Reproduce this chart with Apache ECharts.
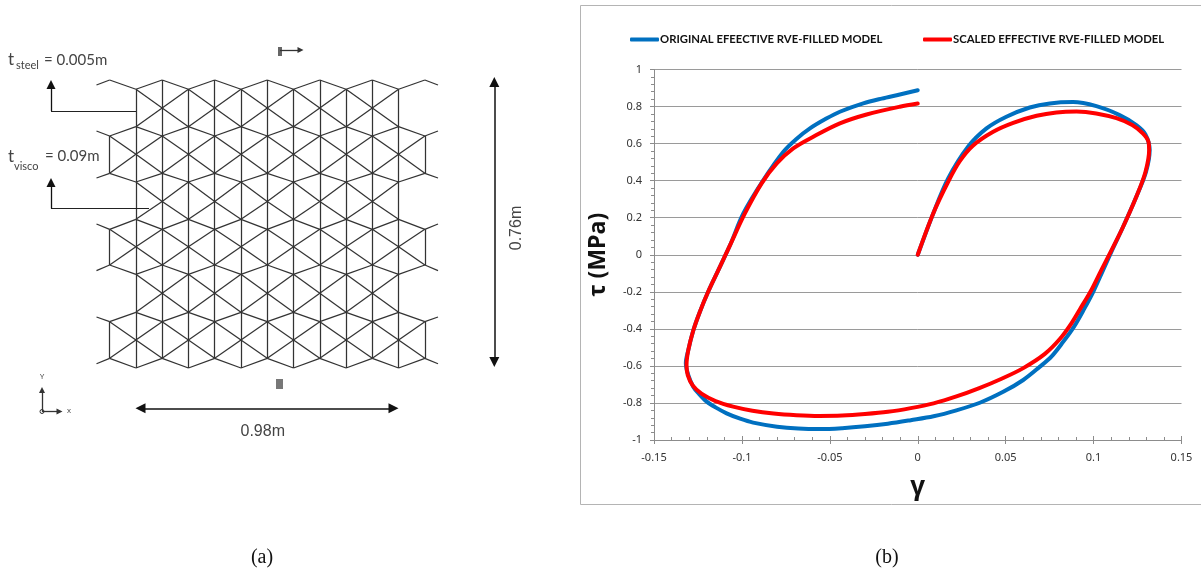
<!DOCTYPE html>
<html><head><meta charset="utf-8">
<style>html,body{margin:0;padding:0;background:#fff}#c{width:1201px;height:574px}</style>
<script src="https://cdn.jsdelivr.net/npm/echarts@6/dist/echarts.min.js"></script>
</head><body><div id="c"></div>
<script>
// Panel (b): hysteresis loops
const originalGamma=[0,.0088,.0173,.0286,.0391,.0504,.0637,.0751,.0883,.1016,.1148,.1243,.1295,.1319,.1298,.1243,.1168,.1108,.1054,.0998,.0945,.0888,.0827,.076,.0695,.06,.0486,.0353,.022,.009,-.004,-.017,-.03,-.043,-.0557,-.068,-.08,-.0936,-.101,-.1087,-.115,-.12,-.1245,-.1277,-.1305,-.1319,-.1305,-.1277,-.124,-.1192,-.1134,-.1066,-.0992,-.0878,-.0764,-.069,-.0613,-.052,-.0443,-.031,-.0205,-.0102,0];
const originalTau=[0,.223,.412,.583,.682,.745,.795,.817,.824,.802,.754,.70,.65,.565,.447,.313,.151,.03,-.083,-.2,-.295,-.389,-.47,-.55,-.604,-.676,-.74,-.799,-.84,-.872,-.893,-.912,-.926,-.936,-.941,-.938,-.928,-.906,-.885,-.856,-.824,-.793,-.75,-.712,-.65,-.586,-.515,-.41,-.31,-.2,-.083,.055,.223,.403,.556,.625,.682,.735,.772,.817,.843,.865,.888];
const scaledGamma=[0,.0088,.0173,.0239,.0315,.0429,.0543,.0676,.0789,.0903,.1015,.113,.122,.128,.1312,.1316,.1295,.1243,.1168,.1105,.1044,.0982,.0925,.0874,.0808,.0723,.06,.048,.035,.022,.009,-.004,-.017,-.03,-.043,-.056,-.069,-.082,-.094,-.105,-.115,-.123,-.128,-.1308,-.1315,-.1305,-.1277,-.124,-.1192,-.1134,-.1066,-.0983,-.0888,-.0802,-.0708,-.0594,-.0443,-.0291,-.0102,0];
const scaledTau=[0,.223,.394,.505,.59,.664,.712,.75,.768,.773,.763,.737,.70,.655,.61,.565,.447,.313,.151,.03,-.083,-.2,-.29,-.37,-.455,-.535,-.612,-.668,-.72,-.765,-.802,-.828,-.848,-.86,-.868,-.87,-.866,-.857,-.842,-.82,-.79,-.75,-.705,-.65,-.595,-.515,-.41,-.31,-.2,-.083,.055,.223,.385,.493,.574,.637,.709,.757,.799,.816];
const seriesNames=['ORIGINAL EFEECTIVE RVE-FILLED MODEL','SCALED EFFECTIVE RVE-FILLED MODEL'];
// Panel (a): lattice levels (metres from the bottom of the 0.76 m panel)
const evenColumnLevels=[.76,.6861,.6122,.5138,.4394,.366,.2718,.1971,.1222,.0256];
const oddColumnLevels=[.7355,.6368,.564,.4908,.3924,.3201,.2473,.147,.0739,0];
const borderLevelIndex=[0,2,3,5,6,8,9];
const tailLevels=[.7468,.6254,.5014,.38,.2568,.1346,.0113];
const columnCount=13;

const pxX=p=>(p-96.5)/26.27-0.5, pxY=p=>(368-p)/288*.76;
const seg=(a,b,c,d)=>({coords:[[pxX(a),pxY(b)],[pxX(c),pxY(d)]]});
const lattice=[];
const L=(c1,y1,c2,y2)=>lattice.push({coords:[[c1,y1],[c2,y2]]});
const last=columnCount-1;
for(let c=0;c<last;c++){
  const even=c%2===0?c:c+1, odd=c%2===0?c+1:c;
  const outer=(c===0||c===last-1);
  for(let a=0;a<evenColumnLevels.length;a++){
    if(outer&&!borderLevelIndex.includes(a))continue;
    L(even,evenColumnLevels[a],odd,oddColumnLevels[a]);
    if(a>0)L(even,evenColumnLevels[a],odd,oddColumnLevels[a-1]);
  }
}
for(let c=1;c<last;c++){
  const lv=c%2===0?evenColumnLevels:oddColumnLevels;
  L(c,lv[0],c,lv[lv.length-1]);
}
[0,last].forEach(c=>{
  [[2,3],[5,6],[8,9]].forEach(p=>L(c,evenColumnLevels[p[0]],c,evenColumnLevels[p[1]]));
  borderLevelIndex.forEach((i,k)=>L(c,evenColumnLevels[i],c===0?-0.5:last+0.5,tailLevels[k]));
});

const zipped=(g,t)=>g.map((v,i)=>[v,t[i]]);
const txt=(x,y,s,size,extra)=>({type:'text',x,y,rotation:(extra&&extra.rotation)||0,silent:true,
  style:{text:s,font:(extra&&extra.font)||`${size}px "Liberation Sans"`,fill:(extra&&extra.fill)||'#444',align:(extra&&extra.align)||'left',verticalAlign:'middle'}});
const lato=s=>`${s}px Lato`;
const legendBase={icon:'roundRect',itemWidth:29,itemHeight:4,itemGap:0,padding:0,top:34,
  textStyle:{fontFamily:'Lato',fontWeight:'bold',fontSize:11.3,color:'#111',padding:[0,0,0,-4]}};

const chart=echarts.init(document.getElementById('c'),null,{renderer:'canvas'});
chart.setOption({
  animation:false,backgroundColor:'#fff',
  legend:[
    Object.assign({},legendBase,{data:[seriesNames[0]],left:630}),
    Object.assign({},legendBase,{data:[seriesNames[1]],left:923})
  ],
  grid:[
    {left:654,top:69.5,width:527.5,height:370.5},
    {left:96.5,top:80,width:341.5,height:288}
  ],
  xAxis:[
    {type:'value',gridIndex:0,min:-.15,max:.15,interval:.05,position:'bottom',
     name:'γ',nameLocation:'middle',nameGap:35,nameTextStyle:{fontFamily:'Open Sans',fontWeight:'bold',fontSize:26,color:'#111'},
     axisLine:{onZero:false,lineStyle:{color:'#8c8c8c'}},axisTick:{show:true,length:4,lineStyle:{color:'#8c8c8c'}},
     axisLabel:{margin:12,fontFamily:'Noto Sans',fontSize:11,color:'#333',hideOverlap:false},splitLine:{show:false}},
    {type:'value',gridIndex:0,min:-.15,max:.15,interval:.05,position:'bottom',
     axisLine:{show:false,onZero:false},axisTick:{show:true,inside:true,length:4,lineStyle:{color:'#8c8c8c'}},
     minorTick:{show:true,splitNumber:5,length:3,lineStyle:{color:'#8c8c8c'}},axisLabel:{show:false},splitLine:{show:false}},
    {type:'value',gridIndex:1,min:-.5,max:12.5,show:false}
  ],
  yAxis:[
    {type:'value',gridIndex:0,min:-1,max:1,interval:.2,position:'left',
     name:'τ (MPa)',nameLocation:'middle',nameGap:44,nameRotate:90,nameTextStyle:{fontFamily:'Open Sans',fontWeight:'bold',fontSize:23,color:'#111'},
     axisLine:{onZero:false,lineStyle:{color:'#8c8c8c'}},axisTick:{show:true,length:4,lineStyle:{color:'#8c8c8c'}},
     axisLabel:{margin:12,fontFamily:'Noto Sans',fontSize:11,color:'#333',hideOverlap:false},
     splitLine:{show:true,lineStyle:{color:'#9a9a9a',width:1}}},
    {type:'value',gridIndex:0,min:-1,max:1,interval:.2,position:'left',
     axisLine:{show:false,onZero:false},axisTick:{show:false},
     minorTick:{show:true,splitNumber:5,length:3,lineStyle:{color:'#8c8c8c'}},axisLabel:{show:false},splitLine:{show:false}},
    {type:'value',gridIndex:1,min:0,max:.76,show:false}
  ],
  series:[
    {name:seriesNames[0],type:'line',xAxisIndex:0,yAxisIndex:0,data:zipped(originalGamma,originalTau),smooth:.33,showSymbol:false,symbol:'none',
     lineStyle:{color:'#0070C0',width:4,cap:'round',join:'round'},itemStyle:{color:'#0070C0'}},
    {name:seriesNames[1],type:'line',xAxisIndex:0,yAxisIndex:0,data:zipped(scaledGamma,scaledTau),smooth:.33,showSymbol:false,symbol:'none',
     lineStyle:{color:'#FF0000',width:4,cap:'round',join:'round'},itemStyle:{color:'#FF0000'}},
    {type:'lines',coordinateSystem:'cartesian2d',xAxisIndex:2,yAxisIndex:2,clip:false,silent:true,
     lineStyle:{color:'#333',width:1.25,opacity:1},data:lattice},
    {type:'lines',coordinateSystem:'cartesian2d',xAxisIndex:2,yAxisIndex:2,clip:false,silent:true,
     lineStyle:{color:'#222',width:1.2,opacity:1},
     data:[seg(51,111,136,111),seg(51,208.5,149,208.5)]},
    {type:'lines',coordinateSystem:'cartesian2d',xAxisIndex:2,yAxisIndex:2,clip:false,silent:true,
     symbol:['none','triangle'],symbolSize:9,lineStyle:{color:'#111',width:1.3,opacity:1},
     data:[seg(51,111,51,84.5),seg(51,208.5,51,182.5)]},
    {type:'lines',coordinateSystem:'cartesian2d',xAxisIndex:2,yAxisIndex:2,clip:false,silent:true,
     symbol:['none','triangle'],symbolSize:6,lineStyle:{color:'#333',width:1.3,opacity:1},
     data:[seg(280,50,300.5,50),seg(42,411.5,42,390),seg(42,411.5,59.5,411.5)]},
    {type:'lines',coordinateSystem:'cartesian2d',xAxisIndex:2,yAxisIndex:2,clip:false,silent:true,
     symbol:['triangle','triangle'],symbolSize:10,lineStyle:{color:'#111',width:1.5,opacity:1},
     data:[seg(494.3,82,494.3,362),seg(140.5,408.3,393.5,408.3)]}
  ],
  graphic:[
    {type:'rect',silent:true,shape:{x:580.5,y:5.5,width:700,height:499},style:{fill:null,stroke:'#b4b4b4',lineWidth:1}},
    {type:'rect',silent:true,shape:{x:278,y:47,width:4,height:9},style:{fill:'#666'}},
    {type:'rect',silent:true,shape:{x:276,y:379,width:7,height:10},style:{fill:'#777'}},
    {type:'circle',silent:true,shape:{cx:42,cy:411.5,r:2},style:{fill:'#fff',stroke:'#333',lineWidth:1}},
    txt(8,60,'t',null,{font:lato(17)}),txt(16,65,'steel',null,{font:lato(11)}),txt(44,60.5,'= 0.005m',null,{font:lato(15)}),
    txt(8,157,'t',null,{font:lato(17)}),txt(14,166,'visco',null,{font:lato(11)}),txt(45,156.5,'= 0.09m',null,{font:lato(15)}),
    txt(240.5,431.5,'0.98m',16),
    txt(516.5,228,'0.76m',16,{rotation:Math.PI/2,align:'center'}),
    txt(42,377,'Y',7,{align:'center'}),txt(69,411,'x',8,{align:'center'}),
    txt(262,558,'(a)',null,{font:'20px "Liberation Serif"',fill:'#111',align:'center'}),
    txt(887,558,'(b)',null,{font:'20px "Liberation Serif"',fill:'#111',align:'center'})
  ]
});
</script></body></html>
